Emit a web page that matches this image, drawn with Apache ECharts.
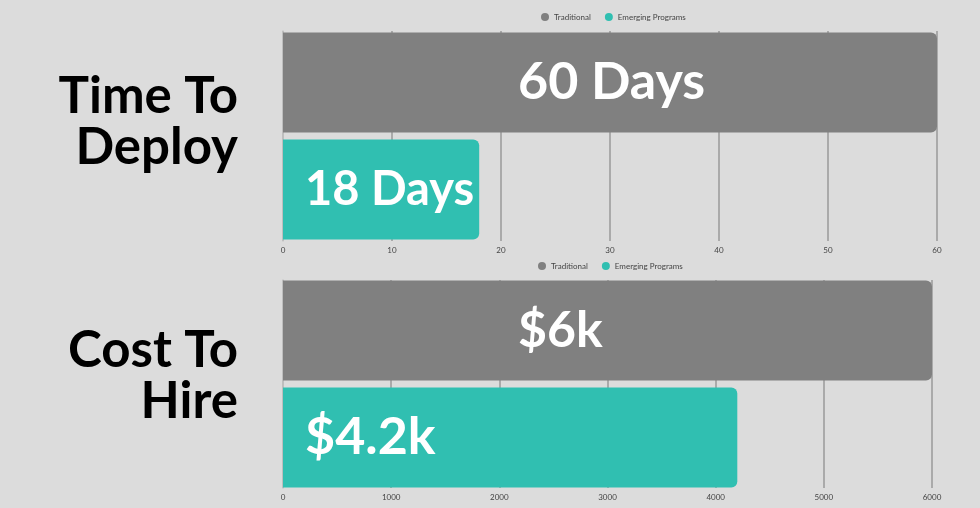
<!DOCTYPE html>
<html>
<head>
<meta charset="utf-8">
<script src="https://cdn.jsdelivr.net/npm/echarts@6/dist/echarts.min.js"></script>
<style>
    html, body { margin: 0; padding: 0; background: #dcdcdc; }
    #chart { width: 980px; height: 508px; }
</style>
</head>
<body>
<div id="chart"></div>
<script>
const traditionalColor = '#808080';
const emergingColor = '#30bfb1';

const seriesNames = ['Traditional', 'Emerging Programs'];
const panelTitles = ['Time To\nDeploy', 'Cost To\nHire'];

const deployValues = [60, 18];
const deployLabels = ['60 Days', '18 Days'];
const deployMax = 60;
const deployStep = 10;

const costValues = [6000, 4200];
const costLabels = ['$6k', '$4.2k'];
const costMax = 6000;
const costStep = 1000;

const chart = echarts.init(document.getElementById('chart'));
const font = 'Lato, "Noto Sans", sans-serif';

function makeSeries(index, values, labels, sizes) {
    return [0, 1].map(function (i) {
        return {
            name: seriesNames[i],
            type: 'bar',
            xAxisIndex: index,
            yAxisIndex: index,
            barWidth: 100,
            barGap: '7%',
            itemStyle: {
                color: i === 0 ? traditionalColor : emergingColor,
                borderRadius: [0, 6, 6, 0]
            },
            label: {
                show: true,
                position: 'insideLeft',
                distance: i === 0 ? 235 : 22,
                color: '#ffffff',
                fontFamily: font,
                fontWeight: 'bold',
                fontSize: sizes[i],
                formatter: function () {
                    return labels[i];
                }
            },
            data: [values[i]]
        };
    });
}

function makeXAxis(index, max, step) {
    return {
        type: 'value',
        gridIndex: index,
        min: 0,
        max: max,
        interval: step,
        axisLine: {show: false},
        axisTick: {show: false},
        axisLabel: {
            color: '#444',
            fontSize: 8,
            margin: 5,
            fontFamily: font,
            formatter: function (value) {
                return String(value);
            }
        },
        splitLine: {lineStyle: {color: '#9a9a9a', width: 1.5}}
    };
}

function makeYAxis(index) {
    return {
        type: 'category',
        gridIndex: index,
        data: [''],
        axisLine: {show: true, lineStyle: {color: '#c4c4c4', width: 1.5}},
        axisTick: {show: false},
        axisLabel: {show: false}
    };
}

function makeLegend(left, top) {
    return {
        data: seriesNames,
        left: left,
        top: top,
        icon: 'circle',
        itemWidth: 8,
        itemHeight: 8,
        itemGap: 14,
        textStyle: {color: '#444', fontSize: 8, fontFamily: font}
    };
}

const titleStyle = {font: 'bold 51px ' + font, fill: '#000', textAlign: 'right', lineHeight: 51};

const option = {
    backgroundColor: '#dcdcdc',
    animation: false,
    legend: [makeLegend(536, 8), makeLegend(533, 257)],
    grid: [
        {left: 283, right: 43, top: 31, height: 210},
        {left: 283, right: 48, top: 280, height: 208}
    ],
    xAxis: [makeXAxis(0, deployMax, deployStep), makeXAxis(1, costMax, costStep)],
    yAxis: [makeYAxis(0), makeYAxis(1)],
    graphic: [
        {
            type: 'text',
            right: 742,
            top: 71,
            style: Object.assign({text: panelTitles[0]}, titleStyle)
        },
        {
            type: 'text',
            right: 742,
            top: 325,
            style: Object.assign({text: panelTitles[1]}, titleStyle)
        }
    ],
    series: makeSeries(0, deployValues, deployLabels, [52, 47])
        .concat(makeSeries(1, costValues, costLabels, [50, 52]))
};

chart.setOption(option);
</script>
</body>
</html>
